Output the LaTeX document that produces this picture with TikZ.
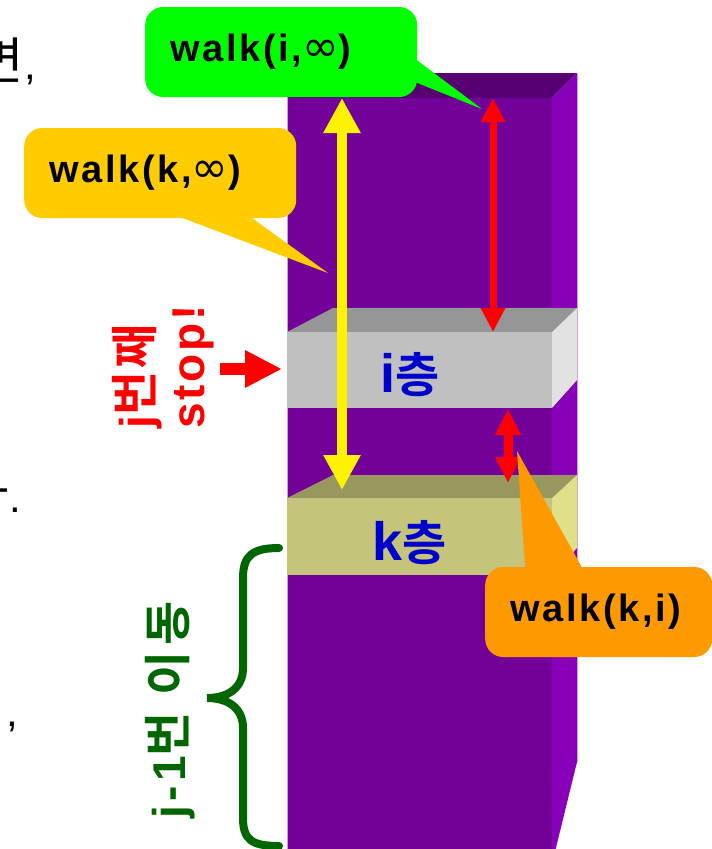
\documentclass[tikz,border=0pt]{standalone}
\usepackage{fontspec}
\setmainfont{Liberation Sans}
\newfontfamily\kr{Noto Sans CJK KR}[BoldFont={Noto Sans CJK KR Bold},Scale=1.2]
\newfontfamily\symfont{DejaVu Sans}
\newcommand\ko[1]{{\kr #1}}
% Korean run with its own size and letter spacing
\newcommand\kosp[3]{{\kr\fontsize{#1}{#1}\selectfont\addfontfeatures{LetterSpace=#2}#3}}
\newcommand\infsym{{\symfont\mdseries\fontsize{44}{44}\selectfont ∞}}
\usetikzlibrary{arrows.meta}

% column and floors
\definecolor{colfront}{RGB}{115,0,153}
\definecolor{coltop}{RGB}{88,0,115}
\definecolor{colside}{RGB}{136,0,184}
\definecolor{coledge}{RGB}{200,160,220}
\definecolor{greyfront}{RGB}{192,192,192}
\definecolor{greytop}{RGB}{150,150,150}
\definecolor{greyside}{RGB}{226,226,226}
\definecolor{khakifront}{RGB}{196,196,122}
\definecolor{khakitop}{RGB}{152,152,94}
\definecolor{khakiside}{RGB}{224,224,138}
% callouts and labels
\definecolor{callgreen}{RGB}{0,255,0}
\definecolor{callyellow}{RGB}{255,204,0}
\definecolor{callorange}{RGB}{255,153,0}
\definecolor{floorblue}{RGB}{0,0,204}
\definecolor{bracegreen}{RGB}{0,102,0}

\tikzset{
  callout/.style={rounded corners=18pt, inner xsep=25pt, inner ysep=0pt,
    minimum height=90pt, align=left, anchor=west,
    font=\bfseries\fontsize{38}{44}\selectfont\addfontfeatures{LetterSpace=7}},
  floor/.style={text=floorblue, font=\bfseries\fontsize{54}{60}\selectfont},
  sidenote/.style={rotate=90, align=left, inner sep=0pt,
    font=\bfseries\fontsize{46}{52}\selectfont\addfontfeatures{LetterSpace=#1}},
  fragment/.style={inner sep=0pt, font=\fontsize{42}{48}\selectfont},
  walkarrow/.style n args={4}{draw=#1, line width=#2,
    arrows={Triangle[length=#3,width=#4]-Triangle[length=#3,width=#4]}},
}

\begin{document}
\begin{tikzpicture}[x=1pt,y=-1pt]
  \useasboundingbox (0,0) rectangle (712,849);

  % cut-off text at the left edge
  \node[fragment, anchor=base east] (frag1) at (36,79) {\ko{면},};
  \node[fragment, anchor=base east] (frag2) at (21,512) {\ko{다}.};
  \node[fragment, anchor=base east] (frag3) at (18,726) {,};

  % purple column
  \fill[colfront] (287,98) rectangle (552,864);
  \fill[coltop] (287,98) -- (313,73) -- (577,73) -- (552,98) -- cycle;
  \fill[colside] (552,98) -- (577,73) -- (577,762) -- (552,864) -- cycle;
  \draw[coledge, line width=1pt] (287,98) -- (287,864);
  \draw[coledge, line width=1pt] (577,73) -- (577,762);

  % floor i
  \fill[greytop] (287,332) -- (333,308) -- (577,308) -- (552,332) -- cycle;
  \fill[greyfront] (287,332) rectangle (552,408);
  \fill[greyside] (552,332) -- (577,308) -- (577,380) -- (552,408) -- cycle;
  \node[floor] (ifloor) at (410,375) {i{\fontsize{40}{48}\selectfont\ko{층}}};

  % floor k
  \fill[khakitop] (287,498) -- (333,475) -- (577,475) -- (552,498) -- cycle;
  \fill[khakifront] (287,498) rectangle (552,575);
  \fill[khakiside] (552,498) -- (577,475) -- (577,548) -- (552,575) -- cycle;
  \node[floor] (kfloor) at (410,543) {k{\fontsize{40}{48}\selectfont\ko{층}}};

  % walking distances
  \coordinate (ytop) at (342,98);
  \coordinate (ybot) at (342,490);
  \coordinate (rtop) at (493,98);
  \coordinate (rbot) at (493,332);
  \coordinate (ktop) at (508,409);
  \coordinate (kbot) at (508,483);
  \draw[walkarrow={yellow}{10pt}{35pt}{35pt}] (ytop) -- (ybot);
  \draw[walkarrow={red}{7pt}{24pt}{23pt}] (rtop) -- (rbot);
  \draw[walkarrow={red}{9pt}{26pt}{24pt}] (ktop) -- (kbot);

  % j-th stop
  \node[sidenote=6, text=red] (stopnote) at (163,367) {j\kosp{40}{6}{번째}\\stop!};
  \coordinate (stoptail) at (220,369);
  \coordinate (stophead) at (282,369);
  \draw[red, line width=12pt, -{Triangle[length=37pt,width=35pt]}] (stoptail) -- (stophead);

  % j-1 moves
  \draw[bracegreen, line width=8pt, line cap=round]
    (279,548) .. controls (252,548) and (243,556) .. (243,578) -- (243,668)
    .. controls (243,688) and (228,698) .. (207,698)
    .. controls (228,698) and (243,708) .. (243,728) -- (243,818)
    .. controls (243,840) and (252,846) .. (279,846);
  \node[sidenote=10, text=bracegreen] (movenote) at (170,710) {j-1\kosp{40}{12}{번 이동}};

  % callouts
  \node[callout, fill=callgreen, text width=222pt] (walki) at (145,52) {walk(i,\infsym)};
  \fill[callgreen] (410,55) -- (482,109) -- (410,80) -- cycle;

  \node[callout, fill=callyellow, text width=222pt] (walkk) at (24,173) {walk(k,\infsym)};
  \fill[callyellow] (148,205) -- (328,273) -- (234,205) -- cycle;

  \node[callout, fill=callorange, text width=177pt] (walkki) at (485,612) {walk(k,i)};
  \fill[callorange] (526,580) -- (517,451) -- (589,580) -- cycle;
\end{tikzpicture}
\end{document}
